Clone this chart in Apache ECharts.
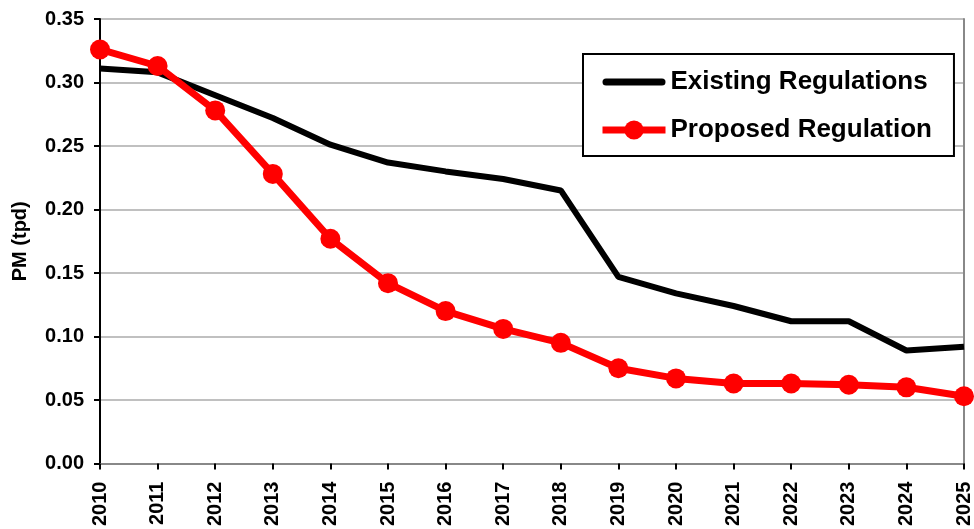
<!DOCTYPE html>
<html>
<head>
<meta charset="utf-8">
<script src="https://cdn.jsdelivr.net/npm/echarts@6/dist/echarts.min.js"></script>
<style>html,body{margin:0;padding:0;background:#fff}#c{width:974px;height:529px}</style>
</head>
<body>
<div id="c"></div>
<script>
const years = ['2010','2011','2012','2013','2014','2015','2016','2017','2018','2019','2020','2021','2022','2023','2024','2025'];
const existing = [0.311,0.308,0.290,0.272,0.251,0.237,0.230,0.224,0.215,0.147,0.134,0.124,0.112,0.112,0.089,0.092];
const proposed = [0.326,0.313,0.278,0.228,0.177,0.142,0.120,0.106,0.095,0.075,0.067,0.063,0.063,0.062,0.060,0.053];
const yTicks = ['0.00','0.05','0.10','0.15','0.20','0.25','0.30','0.35'];

const F = 'Liberation Sans, Arial, sans-serif';
const chart = echarts.init(document.getElementById('c'));
chart.setOption({
  animation: false,
  grid: {left: 100, right: 8, top: 19, bottom: 65, containLabel: false},
  legend: {
    orient: 'vertical', left: 583, top: 54,
    backgroundColor: '#fff', borderColor: '#000', borderWidth: 2,
    padding: [14, 22, 12, 16], itemGap: 20,
    itemWidth: 63, itemHeight: 24,
    textStyle: {fontFamily: F, fontWeight: 'bold', fontSize: 26, color: '#000', lineHeight: 28},
    data: [
      {name: 'Existing Regulations',
       icon: 'path://M3.5,0 H59.5 A3.5,3.5 0 0 1 59.5,7 H3.5 A3.5,3.5 0 0 1 3.5,0 Z',
       itemStyle: {color: '#000'}},
      {name: 'Proposed Regulation', lineStyle: {width: 7}}
    ]
  },
  xAxis: [{
    type: 'category', data: years, boundaryGap: false,
    axisLine: {lineStyle: {color: '#000', width: 2}},
    axisTick: {show: true, length: 6, lineStyle: {color: '#000', width: 2}},
    axisLabel: {rotate: 90, fontFamily: F, fontWeight: 'bold', fontSize: 20, color: '#000', margin: 18}
  }, {
    type: 'category', data: years, boundaryGap: false, position: 'top',
    axisLine: {lineStyle: {color: '#888', width: 2}},
    axisTick: {show: false}, axisLabel: {show: false}
  }],
  yAxis: [{
    type: 'value', min: 0, max: 0.35, interval: 0.05,
    name: 'PM (tpd)', nameLocation: 'middle', nameGap: 70,
    nameTextStyle: {fontFamily: F, fontWeight: 'bold', fontSize: 20, color: '#000'},
    axisLine: {show: true, lineStyle: {color: '#000', width: 2}},
    axisTick: {show: true, length: 6, lineStyle: {color: '#000', width: 2}},
    axisLabel: {fontFamily: F, fontWeight: 'bold', fontSize: 20, color: '#000', margin: 16,
      formatter: v => yTicks[Math.round(v / 0.05)]},
    splitLine: {lineStyle: {color: '#c0c0c0', width: 2}}
  }, {
    type: 'value', min: 0, max: 0.35, interval: 0.05, position: 'right',
    axisLine: {show: true, lineStyle: {color: '#888', width: 2}},
    axisTick: {show: false}, axisLabel: {show: false}, splitLine: {show: false}
  }],
  series: [{
    name: 'Existing Regulations', type: 'line', data: existing,
    symbol: 'none', showSymbol: false,
    lineStyle: {color: '#000', width: 6}, itemStyle: {color: '#000'}, z: 2
  }, {
    name: 'Proposed Regulation', type: 'line', data: proposed,
    symbol: 'circle', symbolSize: 20, clip: false,
    lineStyle: {color: '#ff0000', width: 7}, itemStyle: {color: '#ff0000'}, z: 3
  }]
});
</script>
</body>
</html>
